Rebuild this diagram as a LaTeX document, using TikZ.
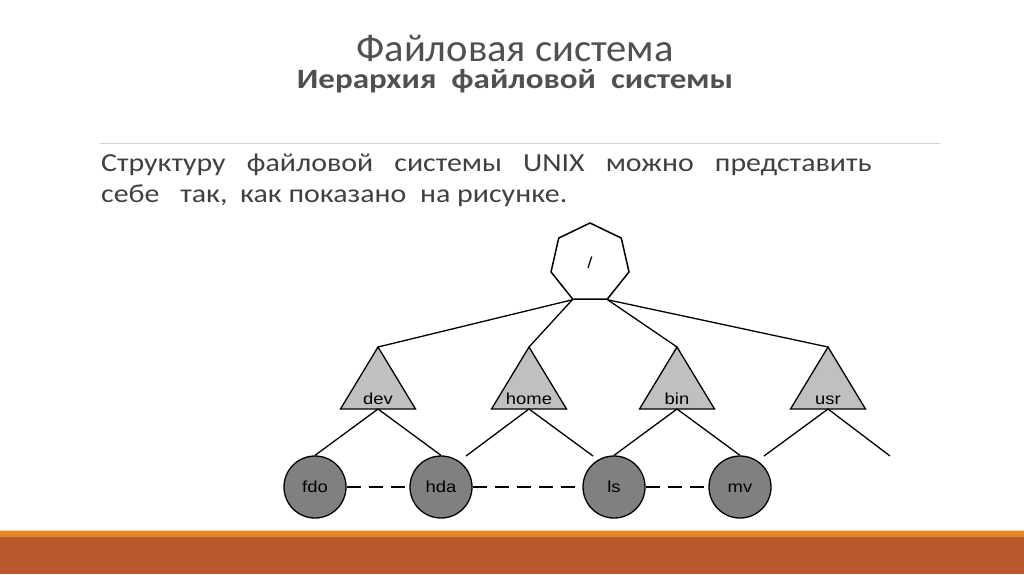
\documentclass[tikz,border=0pt]{standalone}
\usepackage{fontspec}
\usepackage{graphicx}
\setmainfont{Carlito}
\newfontfamily\labelfont{Liberation Sans}
\usetikzlibrary{shapes.geometric}

\definecolor{titlegray}{HTML}{505050}
\definecolor{textgray}{HTML}{404040}
\definecolor{rulegray}{HTML}{D4D4D4}
\definecolor{barorange}{HTML}{E0882A}
\definecolor{barcream}{HTML}{F6DDB0}
\definecolor{bardark}{HTML}{BA582B}
\definecolor{trifill}{HTML}{C0C0C0}
\definecolor{filefill}{HTML}{808080}

\newcommand{\wider}[2]{\scalebox{#1}[1]{#2}}
\newcommand{\lbl}[1]{\wider{1.15}{#1}}

\tikzset{
  dirline/.style={line width=1.3pt, black},
  trishape/.style={line width=1.3pt, draw=black, fill=trifill},
  filenode/.style={circle, draw=black, line width=1.3pt, fill=filefill,
    minimum size=62pt, inner sep=0pt, text height=11.5pt, text depth=0pt,
    font=\labelfont\fontsize{16}{19}\selectfont},
  dirlabel/.style={font=\labelfont\fontsize{16}{19}\selectfont, inner sep=0pt},
  samelevel/.style={line width=1.3pt, dash pattern=on 14pt off 8pt},
  bodytext/.style={anchor=base west, inner sep=0pt, text=textgray, font=\fontsize{26}{31}\selectfont}
}

\begin{document}
\begin{tikzpicture}[x=1pt, y=-1pt]
    \useasboundingbox (0,0) rectangle (1024,574);

    % Title and subtitle
    \node[anchor=base, inner sep=0pt, text=titlegray, font=\fontsize{39}{45}\selectfont] (title) at (515,61)
      {\wider{1.04}{Файловая система}};
    \node[anchor=base, inner sep=0pt, text=titlegray, font=\bfseries\fontsize{28}{32}\selectfont] (subtitle) at (515,88)
      {\wider{1.18}{Иерархия\ \ файловой\ \ системы}};
    \draw[rulegray, line width=1pt] (100,143) -- (940,143);

    % Body text
    \node[bodytext] (line1) at (101,171)
      {\wider{1.15}{\makebox[670pt][s]{Структуру\hfill файловой\hfill системы\hfill UNIX\hfill можно\hfill представить}}};
    \node[bodytext] (line2) at (101,202)
      {\wider{1.15}{себе\hspace{18pt}так,\hspace{11pt}как показано\hspace{12pt}на рисунке.}};

    % Root directory
    \node[regular polygon, regular polygon sides=7, draw=black, line width=1.5pt,
      minimum size=80pt, inner sep=0pt, font=\labelfont\fontsize{16}{19}\selectfont] (root) at (590,263) {\lbl{/}};

    % Directories
    \foreach \name/\x in {dev/378, home/529, bin/677, usr/828} {
      \draw[trishape] (\x,347) coordinate (\name-top) -- (\x+37.5,409) -- (\x-37.5,409) -- cycle;
      \coordinate (\name-base) at (\x,409);
      \node[dirlabel, anchor=base] (\name) at (\x,404) {\lbl{\name}};
    }
    \draw[dirline] (root.corner 4) -- (dev-top);
    \draw[dirline] (root.corner 4) -- (home-top);
    \draw[dirline] (root.corner 5) -- (bin-top);
    \draw[dirline] (root.corner 5) -- (usr-top);

    % Files
    \node[filenode] (fdo) at (315,487) {\lbl{fdo}};
    \node[filenode] (hda) at (441,487) {\lbl{hda}};
    \node[filenode] (ls) at (614,487) {\lbl{ls}};
    \node[filenode] (mv) at (740,487) {\lbl{mv}};

    % Free branch ends
    \coordinate (homeleft) at (466,456);
    \coordinate (homeright) at (593,456);
    \coordinate (usrleft) at (764,456);
    \coordinate (usrright) at (890,456);

    \draw[dirline] (dev-base) -- (fdo.north);
    \draw[dirline] (dev-base) -- (hda.north);
    \draw[dirline] (home-base) -- (homeleft);
    \draw[dirline] (home-base) -- (homeright);
    \draw[dirline] (bin-base) -- (ls.north);
    \draw[dirline] (bin-base) -- (mv.north);
    \draw[dirline] (usr-base) -- (usrleft);
    \draw[dirline] (usr-base) -- (usrright);

    % Same level links
    \draw[samelevel] (fdo.east) -- (hda.west);
    \draw[samelevel] (hda.east) -- (ls.west);
    \draw[samelevel] (ls.east) -- (mv.west);

    % Bottom bar
    \fill[bardark] (0,537) rectangle (1024,574);
    \fill[barorange] (0,531) rectangle (1024,537);
    \fill[barcream] (0,529.5) rectangle (1024,531);
\end{tikzpicture}
\end{document}
